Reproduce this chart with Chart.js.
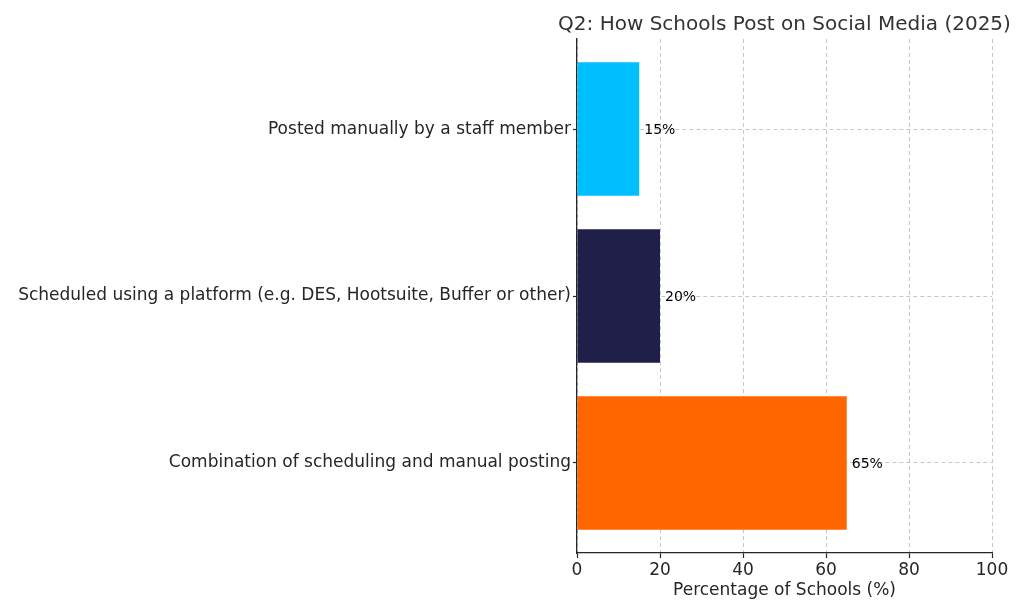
<!DOCTYPE html>
<html>
<head>
<meta charset="utf-8">
<script src="https://cdn.jsdelivr.net/npm/chart.js@4.4.1/dist/chart.umd.min.js"></script>
<style>
  html, body { margin: 0; padding: 0; background: #ffffff; }
  #wrap { width: 1024px; height: 614px; position: relative; }
</style>
</head>
<body>
<div id="wrap"><canvas id="c" width="1024" height="614"></canvas></div>
<script>
// ---- data (top-to-bottom as shown) ----
const chartTitle = "Q2: How Schools Post on Social Media (2025)";
const categories = [
  "Posted manually by a staff member",
  "Scheduled using a platform (e.g. DES, Hootsuite, Buffer or other)",
  "Combination of scheduling and manual posting"
];
const values = [15, 20, 65];
const xTickValues = [0, 20, 40, 60, 80, 100];
const xAxisTitle = "Percentage of Schools (%)";
const barColors = ["#00BFFF", "#1F1F4A", "#FF6600"];

const n = categories.length;
// position index: top category gets highest y value
const points = values.map((v, i) => ({ x: v, y: n - 1 - i }));
const labelFor = (yv) => categories[n - 1 - Math.round(yv)];

const FONT = "'DejaVu Sans', sans-serif";

const titlePlugin = {
  id: 'axesTitle',
  afterDraw(chart) {
    const { ctx, chartArea } = chart;
    ctx.save();
    ctx.font = "20px " + FONT;
    ctx.fillStyle = "#333333";
    ctx.textAlign = "center";
    ctx.textBaseline = "middle";
    ctx.fillText(chartTitle, (chartArea.left + chartArea.right) / 2, 25);
    ctx.restore();
  }
};

const valueLabelPlugin = {
  id: 'valueLabels',
  afterDatasetsDraw(chart) {
    const { ctx } = chart;
    const meta = chart.getDatasetMeta(0);
    ctx.save();
    ctx.font = "14px " + FONT;
    ctx.fillStyle = "#000000";
    ctx.textAlign = "left";
    ctx.textBaseline = "middle";
    meta.data.forEach((el, i) => {
      ctx.fillText(values[i] + "%", el.x + 5, el.y + 1);
    });
    ctx.restore();
  }
};

new Chart(document.getElementById('c'), {
  type: 'bar',
  data: {
    datasets: [{
      data: points,
      backgroundColor: barColors,
      borderWidth: 0,
      barPercentage: 0.8,
      categoryPercentage: 1.0
    }]
  },
  options: {
    indexAxis: 'y',
    responsive: false,
    animation: false,
    layout: { padding: { top: 39, right: 32, bottom: 0, left: 0 } },
    plugins: {
      legend: { display: false },
      tooltip: { enabled: false },
      title: { display: false }
    },
    scales: {
      x: {
        type: 'linear',
        position: 'bottom',
        min: 0,
        max: 100,
        afterBuildTicks(scale) { scale.ticks = xTickValues.map(v => ({ value: v })); },
        afterFit(scale) { scale.height = 61; },
        ticks: {
          font: { family: FONT, size: 17 },
          color: '#262626',
          padding: 2
        },
        grid: {
          color: 'rgba(180,180,180,0.75)',
          lineWidth: 1,
          drawTicks: true,
          tickLength: 5,
          tickColor: '#262626',
          tickWidth: 1.2
        },
        border: { display: true, color: '#262626', width: 1.3, dash: [4, 3] },
        title: {
          display: true,
          text: xAxisTitle,
          font: { family: FONT, size: 17 },
          color: '#262626',
          padding: { top: 0, bottom: 13 }
        }
      },
      y: {
        type: 'linear',
        position: 'left',
        offset: false,
        min: -0.54,
        max: n - 1 + 0.54,
        afterBuildTicks(scale) { scale.ticks = categories.map((c, i) => ({ value: i })); },
        afterFit(scale) { scale.width = 577; },
        ticks: {
          font: { family: FONT, size: 17 },
          color: '#262626',
          padding: 2,
          callback: (v) => labelFor(v)
        },
        grid: {
          offset: false,
          color: 'rgba(180,180,180,0.75)',
          lineWidth: 1,
          drawTicks: true,
          tickLength: 4,
          tickColor: '#262626',
          tickWidth: 1.2
        },
        border: { display: true, color: '#262626', width: 1.3, dash: [4, 3] }
      }
    }
  },
  plugins: [titlePlugin, valueLabelPlugin]
});
</script>
</body>
</html>
